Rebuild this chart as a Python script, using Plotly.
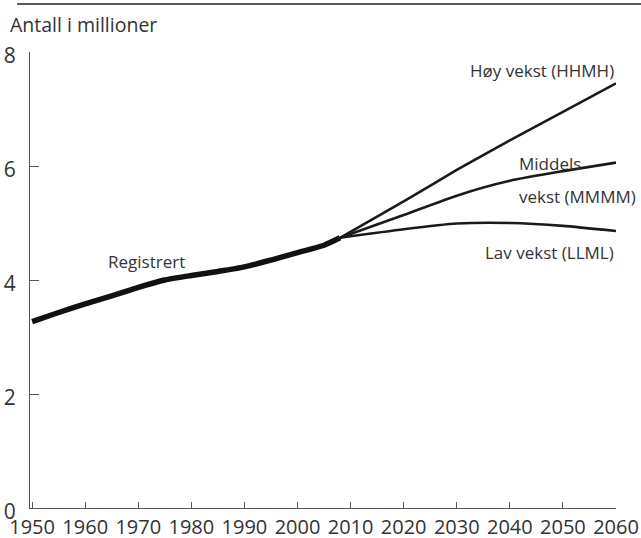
import plotly.graph_objects as go

# Registered population (millions)
reg_years = [1950, 1955, 1960, 1965, 1970, 1975, 1980, 1985, 1990, 1995, 2000, 2005, 2008]
reg_vals = [3.27, 3.43, 3.58, 3.72, 3.87, 4.00, 4.08, 4.15, 4.23, 4.35, 4.48, 4.61, 4.74]

# Projections
proj_years = [2008, 2020, 2030, 2040, 2050, 2060]
high_vals = [4.74, 5.38, 5.93, 6.45, 6.95, 7.45]
mid_vals = [4.74, 5.14, 5.48, 5.74, 5.91, 6.06]
low_vals = [4.74, 4.89, 4.99, 5.00, 4.95, 4.86]

x_ticks = [1950, 1960, 1970, 1980, 1990, 2000, 2010, 2020, 2030, 2040, 2050, 2060]
y_ticks = [0, 2, 4, 6, 8]

FONT = "Open Sans"
TXT = "#333333"
LINE = "#1a1a1a"

fig = go.Figure()
for vals in (high_vals, mid_vals, low_vals):
    fig.add_trace(go.Scatter(x=proj_years, y=vals, mode="lines",
                             line=dict(color=LINE, width=2.6, shape="spline", smoothing=0.6),
                             hoverinfo="skip", showlegend=False))
fig.add_trace(go.Scatter(x=reg_years, y=reg_vals, mode="lines",
                         line=dict(color="#111111", width=5.5, shape="spline", smoothing=0.6),
                         hoverinfo="skip", showlegend=False))

ann_font = dict(family=FONT, size=17, color=TXT)
fig.add_annotation(x=2060, y=7.67, text="Høy vekst (HHMH)", showarrow=False,
                   xanchor="right", yanchor="middle", font=ann_font)
fig.add_annotation(x=2041.4, y=6.05, text="Middels", showarrow=False,
                   xanchor="left", yanchor="middle", font=ann_font)
fig.add_annotation(x=2041.4, y=5.46, text="vekst (MMMM)", showarrow=False,
                   xanchor="left", yanchor="middle", font=ann_font)
fig.add_annotation(x=2060, y=4.49, text="Lav vekst (LLML)", showarrow=False,
                   xanchor="right", yanchor="middle", font=ann_font)
fig.add_annotation(x=1963.9, y=4.33, text="Registrert", showarrow=False,
                   xanchor="left", yanchor="middle", font=ann_font)

# title text
fig.add_annotation(xref="paper", yref="paper", x=-0.037, y=1.0, yshift=28,
                   text="Antall i millioner", showarrow=False,
                   xanchor="left", yanchor="middle",
                   font=dict(family=FONT, size=19.5, color=TXT))
# top rule (about 48 px above the plot area)
fig.add_shape(type="line", xref="paper", yref="paper", x0=-0.022, x1=1.05,
              y0=1 + 48/456, y1=1 + 48/456, line=dict(color="#222222", width=1.5))

fig.update_layout(
    width=641, height=538,
    margin=dict(l=30, r=25, t=52, b=30),
    paper_bgcolor="white", plot_bgcolor="white",
    font=dict(family=FONT, color=TXT),
)

fig.update_xaxes(range=[1949.6, 2060], tickvals=x_ticks, ticktext=[str(v) for v in x_ticks],
                 ticks="inside", ticklen=6, tickcolor="#555555", tickwidth=1,
                 showline=True, linecolor="#555555", linewidth=1,
                 showgrid=False, zeroline=False, automargin=False,
                 tickfont=dict(family=FONT, size=20, color=TXT),
                 ticklabelstandoff=1)
fig.update_yaxes(range=[0, 8], tickvals=y_ticks,
                 ticks="inside", ticklen=9, tickcolor="#555555", tickwidth=1,
                 showline=True, linecolor="#555555", linewidth=1,
                 showgrid=False, zeroline=False, automargin=False,
                 tickfont=dict(family=FONT, size=21, color=TXT),
                 ticklabelstandoff=9, ticklabelshift=4)

fig.write_html("out.html", config={"displayModeBar": False},
               post_script="document.body.style.margin='0';document.body.style.overflow='hidden';")
